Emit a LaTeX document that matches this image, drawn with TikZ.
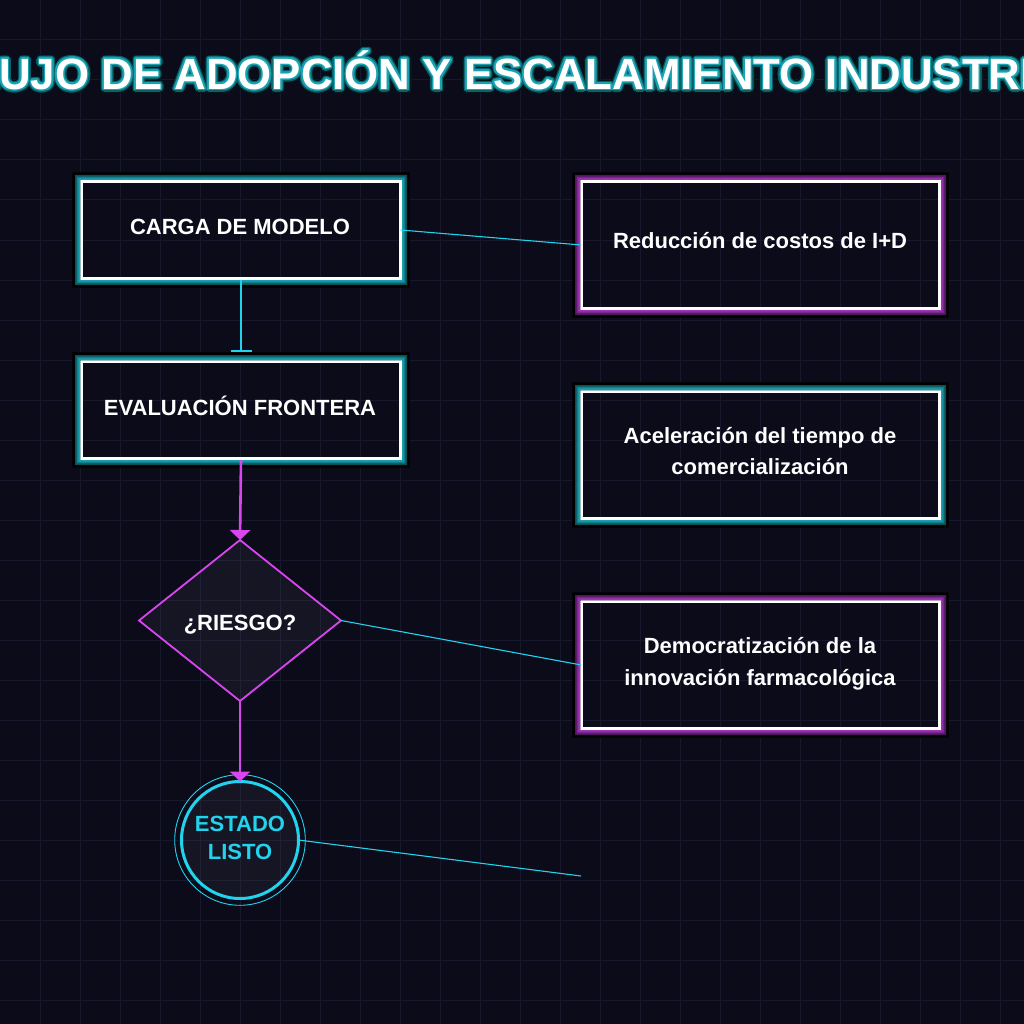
\documentclass[tikz,border=0pt]{standalone}
\usepackage{fontspec}
\setmainfont{Liberation Sans}
\usetikzlibrary{shapes.geometric,arrows.meta}
\definecolor{bg}{HTML}{0B0B1A}
\definecolor{gridc}{HTML}{18182C}
\definecolor{cyanc}{HTML}{22D3EE}
\definecolor{magc}{HTML}{D946EF}
\definecolor{tealA}{HTML}{0B4F57}
\definecolor{tealB}{HTML}{137F8C}
\definecolor{tealC}{HTML}{1AA0AE}
\definecolor{purA}{HTML}{4A1858}
\definecolor{purB}{HTML}{7A2690}
\definecolor{purC}{HTML}{9D34B3}
\definecolor{tglowA}{HTML}{03171A}
\definecolor{tglowB}{HTML}{0D5F68}
\definecolor{tglowC}{HTML}{19A3B2}
\newcommand\glowring[4]{%
  \fill[black,even odd rule] ([shift={(-9,-9)}]#1.north west) rectangle ([shift={(9,9)}]#1.south east) ([shift={(-1.35,-1.35)}]#1.north west) rectangle ([shift={(1.35,1.35)}]#1.south east);
  \fill[#2,even odd rule] ([shift={(-6.35,-6.35)}]#1.north west) rectangle ([shift={(6.35,6.35)}]#1.south east) ([shift={(-1.35,-1.35)}]#1.north west) rectangle ([shift={(1.35,1.35)}]#1.south east);
  \fill[#3,even odd rule] ([shift={(-4.65,-4.65)}]#1.north west) rectangle ([shift={(4.65,4.65)}]#1.south east) ([shift={(-1.35,-1.35)}]#1.north west) rectangle ([shift={(1.35,1.35)}]#1.south east);
  \fill[#4,even odd rule] ([shift={(-3.05,-3.05)}]#1.north west) rectangle ([shift={(3.05,3.05)}]#1.south east) ([shift={(-1.35,-1.35)}]#1.north west) rectangle ([shift={(1.35,1.35)}]#1.south east);
}
\newcommand\titletext{FLUJO DE ADOPCIÓN Y ESCALAMIENTO INDUSTRIAL}
\begin{document}
\begin{tikzpicture}[x=1pt,y=-1pt,
  gridline/.style={draw=gridc,line width=1pt},
  boxl/.style={rectangle,draw=white,line width=2.7pt,minimum width=319.3pt,minimum height=97.3pt,inner sep=0pt,outer sep=0pt},
  boxr/.style={rectangle,draw=white,line width=2.7pt,minimum width=358.3pt,minimum height=127.3pt,inner sep=0pt,outer sep=0pt},
  lbl/.style={text=white,font=\bfseries\fontsize{22}{26}\selectfont,inner sep=0pt,anchor=base},
  clbl/.style={lbl,text=cyanc},
  ttl/.style={font=\bfseries\fontsize{43.8}{50}\selectfont,inner sep=0pt,anchor=base},
  thinlink/.style={draw=cyanc,line width=1.1pt},
  flowm/.style={draw=magc,line width=2.6pt,-{Triangle[width=20pt,length=10pt]}},
  flowc/.style={draw=cyanc,line width=2.6pt,-{Bar[width=21pt,line width=2.2pt]}}
]
\useasboundingbox (0,0) rectangle (1024,1024);
\fill[bg] (0,0) rectangle (1024,1024);
\foreach \i in {40,80,...,1000}{
  \draw[gridline] (\i,0) -- (\i,1024);
  \draw[gridline] (0,\i) -- (1024,\i);
}
% title with glow outline
\begin{scope}
\clip (0,0) rectangle (1024,1024);
\foreach \a in {0,20,...,340}{
  \node[ttl,text=tglowA] (tA\a) at ([shift={(\a:4.3)}]518.5,89.3) {\titletext};
}
\foreach \a in {0,20,...,340}{
  \node[ttl,text=tglowB] (tB\a) at ([shift={(\a:3)}]518.5,89.3) {\titletext};
}
\foreach \a in {0,30,...,330}{
  \node[ttl,text=tglowC] (tC\a) at ([shift={(\a:1.6)}]518.5,89.3) {\titletext};
}
\node[ttl,text=white] (title) at (518.5,89.3) {\titletext};
\end{scope}
% boxes
\node[boxl] (carga) at (241,230) {};
\node[boxl] (eval) at (241,410) {};
\node[boxr] (reduccion) at (760.5,245) {};
\node[boxr] (acel) at (760.5,455) {};
\node[boxr] (democ) at (760.5,665) {};
\glowring{carga}{tealA}{tealB}{tealC}
\glowring{eval}{tealA}{tealB}{tealC}
\glowring{reduccion}{purA}{purB}{purC}
\glowring{acel}{tealA}{tealB}{tealC}
\glowring{democ}{purA}{purB}{purC}
% decision and end
\node[diamond,draw=magc,line width=1.8pt,fill=white,fill opacity=0.045,draw opacity=1,minimum width=202pt,minimum height=161pt,inner sep=0pt,outer sep=0pt] (riesgo) at (240,620.5) {};
\node[circle,draw=cyanc,line width=0.9pt,minimum size=130.6pt,inner sep=0pt] (listoring) at (240,840) {};
\node[circle,draw=cyanc,line width=3pt,fill=white,fill opacity=0.045,draw opacity=1,minimum size=117pt,inner sep=0pt,outer sep=0pt] (listo) at (240,840) {};
% labels
\node[lbl] (cargaT) at (240,235) {CARGA DE MODELO};
\node[lbl] (evalT) at (240,415) {EVALUACIÓN FRONTERA};
\node[lbl] (riesgoT) at (240,630.7) {¿RIESGO?};
\node[clbl] (listoT1) at (240,831.7) {ESTADO};
\node[clbl] (listoT2) at (240,859.3) {LISTO};
\node[lbl] (reduccionT) at (760,248.3) {Reducción de costos de I+D};
\node[lbl] (acelT1) at (760,443.3) {Aceleración del tiempo de};
\node[lbl] (acelT2) at (760,474.8) {comercialización};
\node[lbl] (democT1) at (760,653.5) {Democratización de la};
\node[lbl] (democT2) at (760,685) {innovación farmacológica};
% connectors
\coordinate (free) at (581,876);
\draw[flowc,shorten <=1.35pt,shorten >=9pt] (carga.south) -- (eval.north);
\draw[flowm,shorten <=1.35pt] (eval.south) -- (riesgo.north);
\draw[flowm] (riesgo.south) -- (listo.north);
\draw[thinlink] (carga.east) -- (reduccion.west);
\draw[thinlink] (riesgo.east) -- (democ.west);
\draw[thinlink] (listo.east) -- (free);
\end{tikzpicture}
\end{document}
